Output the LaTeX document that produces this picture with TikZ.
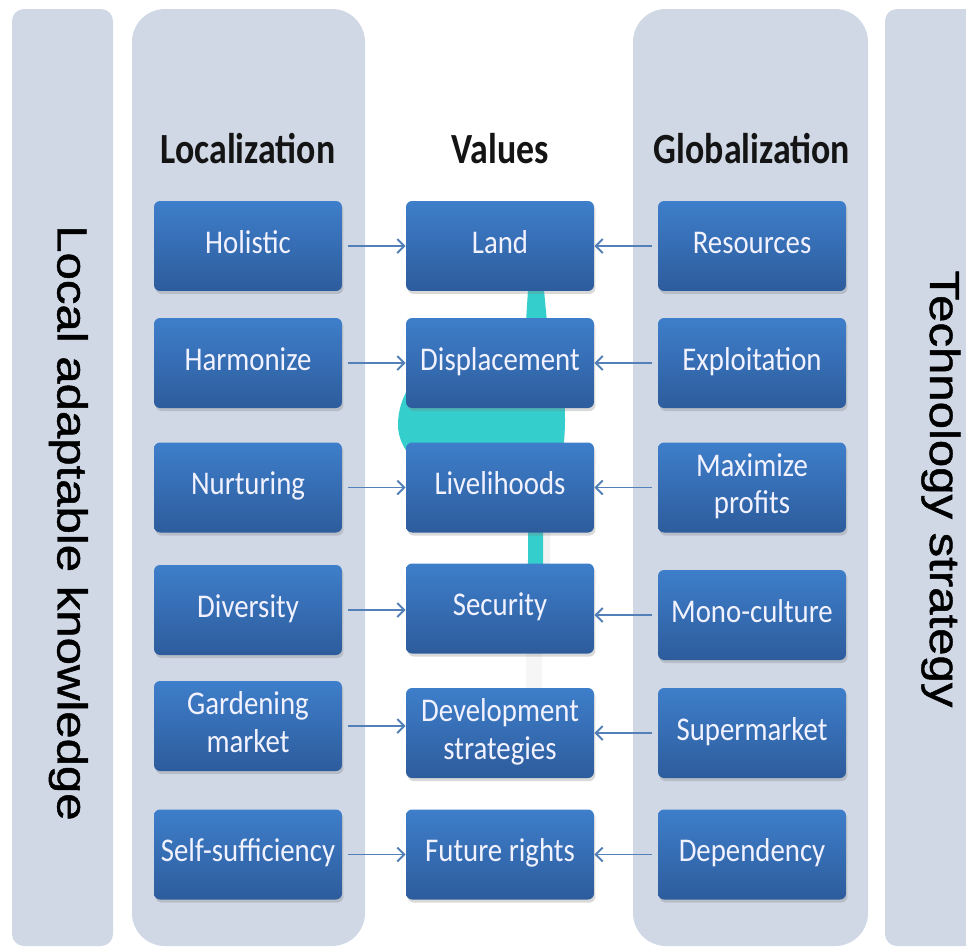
\documentclass[tikz,border=0pt]{standalone}
\usepackage{fontspec}
\setmainfont{Carlito}
\newfontfamily\arialf[FakeBold=1]{Liberation Sans}
\usetikzlibrary{arrows.meta,shadows}
\definecolor{panelc}{RGB}{208,216,230}
\definecolor{boxtop}{RGB}{62,126,202}
\definecolor{boxbot}{RGB}{45,92,156}
\definecolor{arrc}{RGB}{84,128,186}
\definecolor{cyanblob}{RGB}{52,206,204}
\definecolor{hdrc}{RGB}{20,20,20}
\newcommand{\bxt}[1]{\scalebox{1}[1.15]{\fontsize{16.4}{18.5}\selectfont\begin{tabular}{@{}c@{}}#1\end{tabular}}}
\newcommand{\hdt}[1]{\scalebox{1}[1.2]{\fontsize{20.4}{24}\selectfont\bfseries #1}}
\newcommand{\sdt}[1]{\scalebox{1.17}[1]{\arialf\fontsize{23.9}{28}\selectfont #1}}
\begin{document}
\begin{tikzpicture}[x=0.02cm,y=-0.02cm,
  panel/.style={fill=panelc},
  vbox/.style={rectangle, rounded corners=0.12cm, minimum width=3.76cm, minimum height=1.8cm,
    top color=boxtop, bottom color=boxbot, draw=none, text=white!95!blue, inner sep=0pt,
    drop shadow={shadow xshift=0.03cm, shadow yshift=-0.06cm, opacity=0.3}},
  hdr/.style={text=hdrc, inner sep=0pt, anchor=base},
  side/.style={rotate=-90, anchor=base, inner sep=0pt, text=black},
  arr/.style={draw=arrc, line width=1.1pt, -{Straight Barb[length=4pt,width=8pt]}, shorten <=3pt}]
\useasboundingbox (0,0) rectangle (966,947);
\clip (0,0) rectangle (966,947);
% panels
\fill[panel, rounded corners=0.24cm] (12,9) rectangle (113,946);
\fill[panel, rounded corners=0.66cm] (132,9) rectangle (365,946);
\fill[panel, rounded corners=0.66cm] (633,9) rectangle (868,946);
\fill[panel, rounded corners=0.24cm] (885,9) rectangle (1000,946);
% side texts
\node[side] (lk) at (57.5,523) {\sdt{Local adaptable knowledge}};
\node[side] (ts) at (930,489) {\sdt{Technology strategy}};
% headers
\node[hdr] (hl) at (248,163) {\hdt{Localization}};
\node[hdr] (hv) at (500,163) {\hdt{Values}};
\node[hdr] (hg) at (752,163) {\hdt{Globalization}};
% background blob and its soft shadow
\fill[black, opacity=0.035] (526,560) rectangle (542,690);
\fill[black, opacity=0.05] (528,300) .. controls (570,340) and (575,460) .. (550,510) -- (550,570) -- (530,570) -- cycle;
\fill[cyanblob] (528,290) -- (526,322) .. controls (470,335) and (398,365) .. (398,425)
  .. controls (398,470) and (470,500) .. (528,510) -- (528,566) -- (543,566) -- (543,505)
  .. controls (556,480) and (565,455) .. (565,420) .. controls (565,380) and (556,345) .. (547,322)
  -- (544,290) -- cycle;
% boxes
\node[vbox] (l1) at (248,246) {\bxt{Holistic}};
\node[vbox] (l2) at (248,363) {\bxt{Harmonize}};
\node[vbox] (l3) at (248,487.5) {\bxt{Nurturing}};
\node[vbox] (l4) at (248,610) {\bxt{Diversity}};
\node[vbox] (l5) at (248,726) {\bxt{Gardening\\market}};
\node[vbox] (l6) at (248,854.5) {\bxt{Self-sufficiency}};
\node[vbox] (v1) at (500,246) {\bxt{Land}};
\node[vbox] (v2) at (500,363) {\bxt{Displacement}};
\node[vbox] (v3) at (500,487.5) {\bxt{Livelihoods}};
\node[vbox] (v4) at (500,608.5) {\bxt{Security}};
\node[vbox] (v5) at (500,733) {\bxt{Development\\strategies}};
\node[vbox] (v6) at (500,854.5) {\bxt{Future rights}};
\node[vbox] (g1) at (752,246) {\bxt{Resources}};
\node[vbox] (g2) at (752,363) {\bxt{Exploitation}};
\node[vbox] (g3) at (752,487.5) {\bxt{Maximize\\profits}};
\node[vbox] (g4) at (752,615) {\bxt{Mono-culture}};
\node[vbox] (g5) at (752,733) {\bxt{Supermarket}};
\node[vbox] (g6) at (752,854.5) {\bxt{Dependency}};
% arrows
\foreach \i in {1,...,6}{
  \draw[arr] (l\i.east) -- (l\i.east -| v\i.west);
  \draw[arr] (g\i.west) -- (g\i.west -| v\i.east);
}
\end{tikzpicture}
\end{document}
